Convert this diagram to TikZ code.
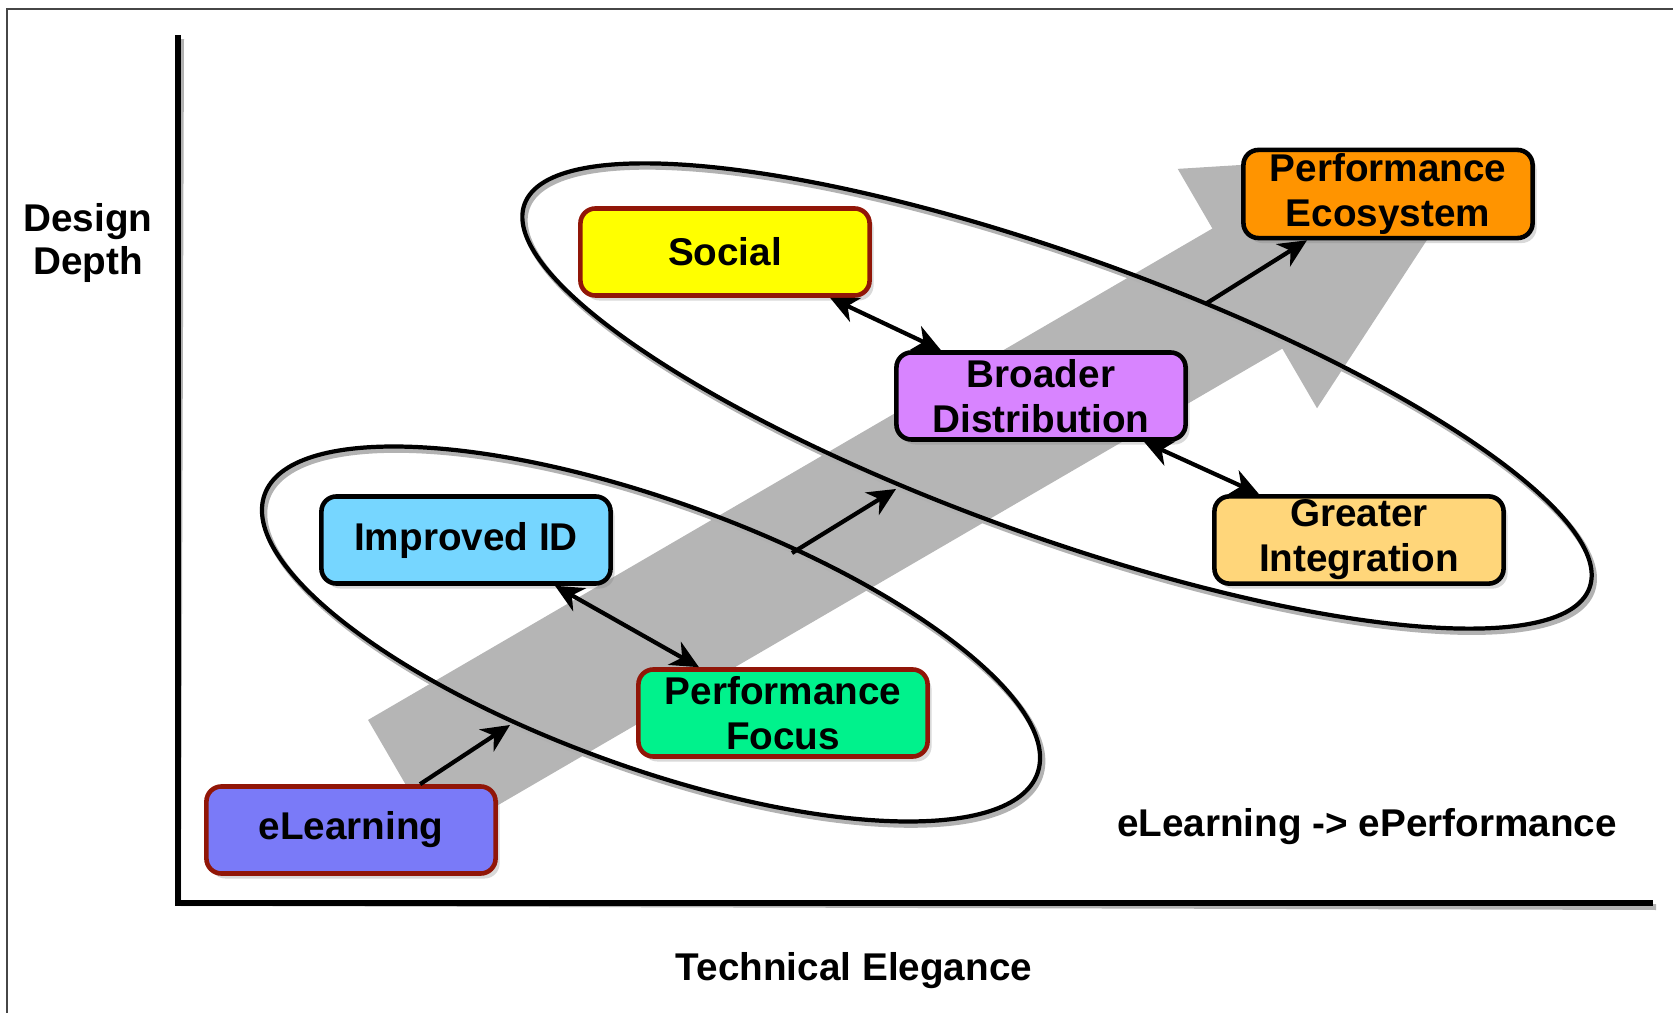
\documentclass[tikz,border=0pt]{standalone}
\usepackage{fontspec}
\setmainfont{Liberation Sans}
\usepackage{tikz}
\usetikzlibrary{arrows.meta, positioning, calc, shadows}
\usepackage{xcolor}

\definecolor{borderred}{RGB}{145,22,8}
\definecolor{elearnblue}{RGB}{122,122,248}
\definecolor{idblue}{RGB}{118,214,255}
\definecolor{focusgreen}{RGB}{0,242,140}
\definecolor{socialyellow}{RGB}{255,255,0}
\definecolor{distviolet}{RGB}{216,132,255}
\definecolor{integorange}{RGB}{255,214,122}
\definecolor{ecoorange}{RGB}{255,148,0}
\definecolor{bandgray}{RGB}{181,181,181}
\definecolor{framegray}{RGB}{70,70,70}

\newcommand{\stagefont}{\fontsize{11}{12.8}\selectfont\bfseries}
\newcommand{\axisfont}{\fontsize{11}{12.3}\selectfont\bfseries}

\begin{document}
\begin{tikzpicture}[x=0.01cm, y=-0.01cm,
  stage/.style={rectangle, rounded corners=0.15cm, draw=black, line width=1.3pt,
    minimum width=2.89cm, minimum height=0.87cm, inner sep=1pt, align=center,
    font=\stagefont, drop shadow={shadow xshift=0.04cm, shadow yshift=-0.05cm, opacity=0.3}},
  redstage/.style={stage, draw=borderred},
  axislabel/.style={font=\axisfont, align=center, inner sep=1pt},
  ring/.style={draw=black, line width=1.2pt},
  ringshadow/.style={draw=black!30, line width=1.6pt},
  axisline/.style={line width=1.7pt, line cap=rect},
  link/.style={-{Stealth[length=8pt, width=7.5pt, inset=2.5pt]}, line width=1.2pt},
  twolink/.style={{Stealth[length=8pt, width=7.5pt, inset=2.5pt]}-{Stealth[length=8pt, width=7.5pt, inset=2.5pt]}, line width=1.2pt}]

 \useasboundingbox (0,0) rectangle (1673,1013);

 % Frame
 \draw[framegray, line width=0.7pt] (7,1013) -- (7,9) -- (1673,9);

 % Axes
 \coordinate (origin) at (178,903);
 \draw[axisline, black!30, xshift=0.03cm, yshift=-0.04cm] (178,38) -- (origin) -- (1650,903);
 \draw[axisline] (178,38) -- (origin) -- (1650,903);

 % Grey trend arrow
 \begin{scope}[shift={(403,780)}, rotate=30.2]
  \fill[bandgray] (0,-69.5) -- (977,-69.5) -- (977,-138.5) -- (1253,0)
   -- (977,138.5) -- (977,69.5) -- (0,69.5) -- cycle;
 \end{scope}

 % Groups
 \draw[ringshadow, xshift=0.025cm, yshift=-0.035cm, rotate around={-19.85:(651,634)}] (651,634) ellipse (410.8 and 133.2);
 \draw[ring, rotate around={-19.85:(651,634)}] (651,634) ellipse (410.8 and 133.2);
 \draw[ringshadow, xshift=0.025cm, yshift=-0.035cm, rotate around={-19.8:(1057,396)}] (1057,396) ellipse (566 and 140);
 \draw[ring, rotate around={-19.8:(1057,396)}] (1057,396) ellipse (566 and 140);

 % Labels
 \node[axislabel] (depth) at (88,243) {Design\\Depth};
 \node[axislabel] (elegance) at (854,971) {Technical Elegance};
 \node[axislabel] (trend) at (1367,827) {eLearning -> ePerformance};

 % Nodes
 \node[redstage, fill=elearnblue] (elearning) at (351,830) {eLearning};
 \node[stage, fill=idblue] (improved) at (466,540) {Improved ID};
 \node[redstage, fill=focusgreen] (focus) at (783,713) {Performance\\Focus};
 \node[redstage, fill=socialyellow] (social) at (725,252) {Social};
 \node[stage, fill=distviolet] (broader) at (1041,396) {Broader\\Distribution};
 \node[stage, fill=integorange] (greater) at (1359,540) {Greater\\Integration};
 \node[stage, fill=ecoorange] (ecosystem) at (1388,194) {Performance\\Ecosystem};

 % Free arrow ends on the band
 \coordinate (step1) at (510,725);
 \coordinate (step2a) at (792,553);
 \coordinate (step2b) at (896,489);
 \coordinate (step3) at (1207,303);

 % Single arrows
 \draw[link] ([xshift=0.69cm]elearning.north) -- (step1);
 \draw[link] (step2a) -- (step2b);
 \draw[link] (step3) -- ([xshift=-0.81cm]ecosystem.south);

 % Double arrows
 \draw[twolink] ([xshift=0.89cm]improved.south) -- ([xshift=-0.84cm]focus.north);
 \draw[twolink] ([xshift=1.05cm]social.south) -- ([xshift=-1.0cm]broader.north);
 \draw[twolink] ([xshift=1.03cm]broader.south) -- ([xshift=-1.0cm]greater.north);

\end{tikzpicture}
\end{document}
